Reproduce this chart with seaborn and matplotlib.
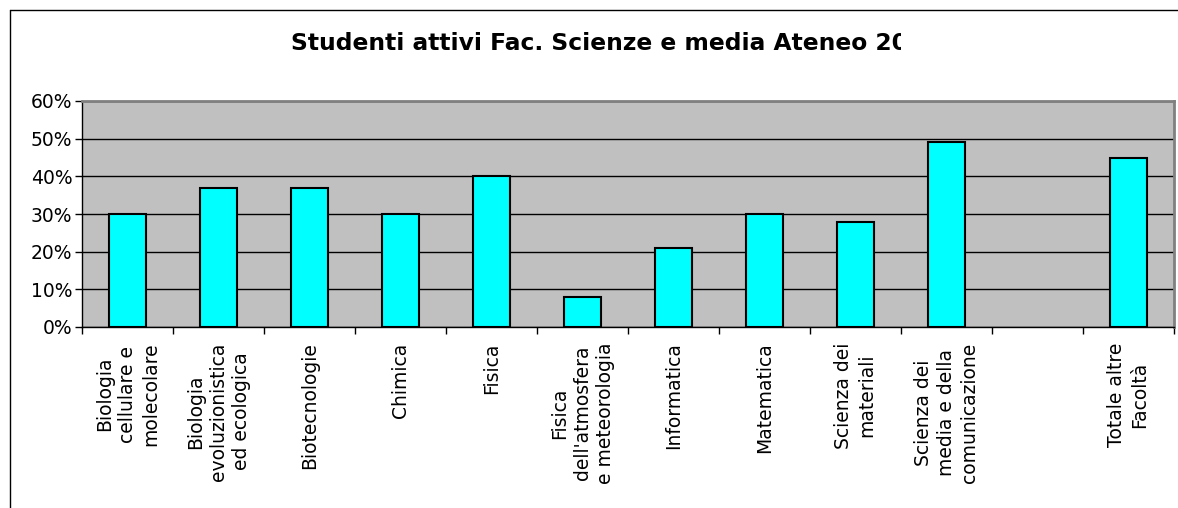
import matplotlib
matplotlib.use("Agg")
import matplotlib.pyplot as plt
import pandas as pd
import seaborn as sns
from matplotlib.lines import Line2D
from matplotlib.patches import Rectangle
from matplotlib.ticker import FixedLocator, PercentFormatter

# Data
categories = [
    "Biologia\ncellulare e\nmolecolare",
    "Biologia\nevoluzionistica\ned ecologica",
    "Biotecnologie",
    "Chimica",
    "Fisica",
    "Fisica\ndell'atmosfera\ne meteorologia",
    "Informatica",
    "Matematica",
    "Scienza dei\nmateriali",
    "Scienza dei\nmedia e della\ncomunicazione",
    "Totale altre\nFacoltà",
]
values = [30, 37, 37, 30, 40, 8, 21, 30, 28, 49, 45]
# empty slot between the last faculty and the total
order = categories[:10] + [" "] + categories[10:]
title = "Studenti attivi Fac. Scienze e media Ateneo 20"

df = pd.DataFrame({"Corso": categories, "Attivi": values})

sns.set_style("white")
plt.rcParams["font.family"] = ["DejaVu Sans"]
plt.rcParams["text.color"] = "black"
plt.rcParams["xtick.color"] = "black"
plt.rcParams["ytick.color"] = "black"

W, H = 1178, 508
fig = plt.figure(figsize=(W / 100, H / 100), dpi=100)
ax = fig.add_axes([82 / W, 1 - 327 / H, (1174 - 82) / W, (327 - 101) / H])

sns.barplot(
    data=df,
    x="Corso",
    y="Attivi",
    order=order,
    color="#00FFFF",
    edgecolor="black",
    linewidth=1.5,
    width=0.4,
    saturation=1,
    ax=ax,
    zorder=3,
)

ax.set_facecolor("#C0C0C0")
ax.set_ylim(0, 60)
ax.set_xlim(-0.5, len(order) - 0.5)
ax.set_yticks(range(0, 61, 10))
ax.yaxis.set_major_formatter(PercentFormatter(decimals=0))
ax.yaxis.grid(True, color="black", linewidth=1, zorder=1)
ax.set_axisbelow(True)
ax.set_xlabel("")
ax.set_ylabel("")

# category labels at centres, tick marks at boundaries
ax.set_xticks(range(len(order)))
ax.set_xticklabels(order, rotation=90, ha="center", va="top",
                   multialignment="center", linespacing=1.27, fontsize=13.5)
ax.xaxis.set_minor_locator(FixedLocator([i - 0.5 for i in range(len(order) + 1)]))
ax.tick_params(axis="x", which="major", length=0, pad=11)
ax.tick_params(axis="x", which="minor", length=5, width=1, color="black", bottom=True)
ax.tick_params(axis="y", length=5, width=1, color="black", labelsize=13.5, pad=2, left=True)

for side in ["left", "bottom"]:
    ax.spines[side].set_color("black")
    ax.spines[side].set_linewidth(1)
for side in ["top", "right"]:
    ax.spines[side].set_color("#808080")
    ax.spines[side].set_linewidth(2)

# title, cut off on the right as in the original
t = fig.text(291 / W, 1 - 44 / H, title, fontsize=16.8, fontweight="bold",
             ha="left", va="center", color="black")
t.set_clip_path(Rectangle((0, 0), 901 / W, 1, transform=fig.transFigure))

# outer chart border (left and top only visible)
fig.add_artist(Line2D([9.5 / W, 9.5 / W], [0, 1 - 9.5 / H], color="black", linewidth=1))
fig.add_artist(Line2D([9.5 / W, 1], [1 - 9.5 / H, 1 - 9.5 / H], color="black", linewidth=1))

fig.savefig("out.png", dpi=100)
